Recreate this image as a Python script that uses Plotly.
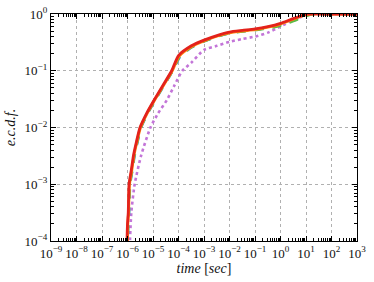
import plotly.graph_objects as go

# x values (seconds) and y values (e.c.d.f.)
red_x = [9.3e-7, 1.0e-6, 1.07e-6, 1.15e-6, 1.41e-6, 1.70e-6, 2.24e-6, 3.09e-6, 5.62e-6, 1e-5, 2.51e-5, 5.4e-5, 1e-4, 3.2e-4, 1e-3, 3.2e-3, 1e-2, 3.2e-2, 1e-1, 3.2e-1, 1.0, 3.2, 10.0, 12.5, 100.0, 1000.0]
red_y = [6.3e-5, 2.0e-4, 3.16e-4, 1e-3, 1.78e-3, 3.16e-3, 5.62e-3, 1e-2, 1.78e-2, 2.82e-2, 5.62e-2, 0.1, 0.185, 0.275, 0.347, 0.417, 0.479, 0.513, 0.545, 0.6, 0.685, 0.83, 0.99, 1.0, 1.0, 1.0]

orange_x = [9.8e-7, 1.03e-6, 1.1e-6, 1.2e-6, 1.48e-6, 1.78e-6, 2.35e-6, 3.24e-6, 5.9e-6, 1.05e-5, 2.64e-5, 5.7e-5, 1.05e-4, 3.2e-4, 1e-3, 3.2e-3, 1e-2, 3.2e-2, 1e-1, 3.2e-1, 1.0, 3.2, 10.0, 15.0, 100.0, 1000.0]
orange_y = [6.3e-5, 2.0e-4, 3.16e-4, 1e-3, 1.78e-3, 3.16e-3, 5.62e-3, 1e-2, 1.78e-2, 2.82e-2, 5.62e-2, 0.1, 0.18, 0.265, 0.335, 0.405, 0.465, 0.5, 0.53, 0.585, 0.665, 0.81, 0.97, 1.0, 1.0, 1.0]

green_x = [1.0e-6, 1.06e-6, 1.13e-6, 1.24e-6, 1.52e-6, 1.84e-6, 2.42e-6, 3.34e-6, 6.1e-6, 1.08e-5, 2.7e-5, 5.85e-5, 1.08e-4, 3.2e-4, 1e-3, 3.2e-3, 1e-2, 3.2e-2, 1e-1, 3.2e-1, 1.0, 3.2, 10.0, 19.0, 100.0, 1000.0]
green_y = [6.3e-5, 2.0e-4, 3.16e-4, 1e-3, 1.78e-3, 3.16e-3, 5.62e-3, 1e-2, 1.78e-2, 2.82e-2, 5.62e-2, 0.1, 0.175, 0.26, 0.33, 0.4, 0.46, 0.49, 0.52, 0.56, 0.62, 0.75, 0.92, 1.0, 1.0, 1.0]

blue_x = [1.01e-6, 1.07e-6, 1.15e-6, 1.27e-6, 1.56e-6, 1.89e-6, 2.49e-6, 3.43e-6, 6.25e-6, 1.11e-5, 2.78e-5, 6.0e-5, 1.1e-4, 3.2e-4, 1e-3, 3.2e-3, 1e-2, 3.2e-2, 1e-1, 3.2e-1, 1.0, 3.2, 10.0, 17.0, 100.0, 1000.0]
blue_y = [6.3e-5, 2.0e-4, 3.16e-4, 1e-3, 1.78e-3, 3.16e-3, 5.62e-3, 1e-2, 1.78e-2, 2.82e-2, 5.62e-2, 0.1, 0.172, 0.258, 0.33, 0.4, 0.46, 0.495, 0.525, 0.57, 0.64, 0.78, 0.95, 1.0, 1.0, 1.0]

purple_x = [1.2e-6, 1.41e-6, 1.91e-6, 3.39e-6, 7.94e-6, 1.58e-5, 3.47e-5, 7.08e-5, 1.41e-4, 3.16e-4, 1e-3, 3.2e-3, 1e-2, 3.2e-2, 1e-1, 3.2e-1, 1.0, 3.2, 10.0, 20.0, 100.0, 1000.0]
purple_y = [6.3e-5, 3.16e-4, 1e-3, 3.16e-3, 1e-2, 1.78e-2, 3.02e-2, 5.62e-2, 0.1, 0.138, 0.234, 0.275, 0.324, 0.363, 0.4, 0.47, 0.6, 0.79, 0.95, 1.0, 1.0, 1.0]

x_tick_vals = [1e-9, 1e-8, 1e-7, 1e-6, 1e-5, 1e-4, 1e-3, 1e-2, 1e-1, 1e0, 1e1, 1e2, 1e3]
x_tick_text = ["10<sup>−9</sup>", "10<sup>−8</sup>", "10<sup>−7</sup>", "10<sup>−6</sup>", "10<sup>−5</sup>", "10<sup>−4</sup>", "10<sup>−3</sup>", "10<sup>−2</sup>", "10<sup>−1</sup>", "10<sup>0</sup>", "10<sup>1</sup>", "10<sup>2</sup>", "10<sup>3</sup>"]
y_tick_vals = [1e-4, 1e-3, 1e-2, 1e-1, 1e0]
y_tick_text = ["10<sup>−4</sup>", "10<sup>−3</sup>", "10<sup>−2</sup>", "10<sup>−1</sup>", "10<sup>0</sup>"]

series = [
    (purple_x, purple_y, "#C375D8", "dot", 2.6),
    (blue_x, blue_y, "#3A8FD0", "dash", 2.6),
    (green_x, green_y, "#5DBB46", "dash", 2.6),
    (orange_x, orange_y, "#FF8A10", "solid", 2.8),
    (red_x, red_y, "#E3221C", "solid", 2.8),
]

fig = go.Figure()
for xs, ys, col, dash, w in series:
    fig.add_trace(go.Scatter(x=xs, y=ys, mode="lines",
                             line=dict(color=col, dash=dash, width=w, shape="spline", smoothing=0.6),
                             showlegend=False, cliponaxis=True))

def minor_vals(majors):
    out = []
    for m in majors[:-1]:
        for k in range(2, 10):
            out.append(m * k)
    return out

font = "Liberation Serif"
axis_common = dict(
    type="log", showline=True, linecolor="black", linewidth=1.3, mirror="ticks",
    ticks="inside", ticklen=5, tickcolor="black", tickwidth=1, tickangle=0,
    showgrid=True, gridcolor="#b0b0b0", griddash="dot", gridwidth=1,
    zeroline=False, tickfont=dict(family=font, size=13, color="#111"),
    automargin=False,
)

fig.update_xaxes(range=[-9, 3], tickvals=x_tick_vals, ticktext=x_tick_text,
                 minor=dict(ticks="inside", ticklen=2.5, tickcolor="black", showgrid=False,
                            tickvals=minor_vals(x_tick_vals)),
                 title=dict(text="<i>time</i> [<i>sec</i>]", font=dict(family=font, size=14, color="#111"), standoff=3),
                 **axis_common)
fig.update_yaxes(range=[-4, 0], tickvals=y_tick_vals, ticktext=y_tick_text,
                 minor=dict(ticks="inside", ticklen=2.5, tickcolor="black", showgrid=False,
                            tickvals=minor_vals(y_tick_vals)),
                 title=dict(text="<i>e.c.d.f.</i>", font=dict(family=font, size=14, color="#111"), standoff=5),
                 **axis_common)

fig.update_layout(width=374, height=282, margin=dict(l=51, r=17, t=14, b=41),
                  plot_bgcolor="white", paper_bgcolor="white")

fig.write_html("out.html", config={"displayModeBar": False},
               post_script="document.body.style.margin='0';")
